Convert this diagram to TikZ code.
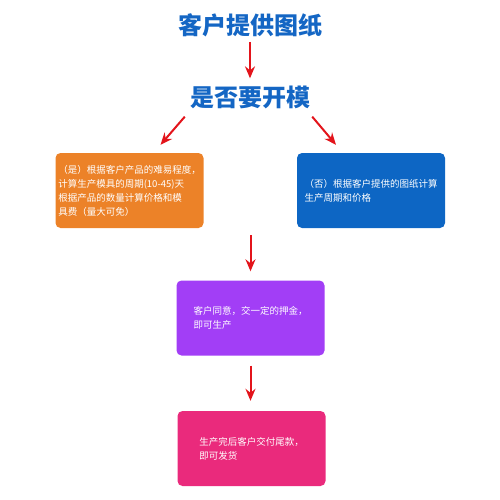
\documentclass[tikz,border=0pt]{standalone}
\usepackage{fontspec}
\setmainfont{Noto Sans CJK SC}
\usepackage{tikz}
\usetikzlibrary{positioning, calc}
\usetikzlibrary{arrows.meta}
\definecolor{titleblue}{HTML}{1466C4}
\definecolor{arrowred}{HTML}{E3141B}
\definecolor{boxorange}{HTML}{EC8228}
\definecolor{boxblue}{HTML}{0D66C4}
\definecolor{boxpurple}{HTML}{A23EF6}
\definecolor{boxpink}{HTML}{EA2A7C}

\begin{document}
\begin{tikzpicture}[x=1pt, y=-1pt, draw=black!100]
	\useasboundingbox (0,0) rectangle (500,500);
	\def \rowoneht{190.5}
	\def \rowtwoht{318}
	\def \rowthreeht{448.5}
	\tikzstyle{t-node}=[text=titleblue,inner sep=0pt,font=\fontsize{24}{24}\selectfont\bfseries]
	\tikzstyle{b-node}=[rounded corners=5pt,minimum width=148pt,minimum height=75pt,inner sep=0pt,text=white,align=left,font=\fontsize{9.5}{14}\selectfont]
	\tikzstyle{r-arrow}=[draw=arrowred,line width=2pt,-{Stealth[length=12pt,width=10pt,inset=4pt]}]
	% titles
	\node[t-node] 	(t1)	at (250,25)		{客户提供图纸};
	\node[t-node] 	(t2)	at (250,97)		{是否要开模};
	% boxes
	\node[b-node,fill=boxorange] 	(yes)	at (129.5,\rowoneht)	{（是）根据客户产品的难易程度，\\计算生产模具的周期(10-45)天\\根据产品的数量计算价格和模\\具费（量大可免）};
	\node[b-node,fill=boxblue] 	(no)	at (371,\rowoneht)	{（否）根据客户提供的图纸计算\\生产周期和价格};
	\node[b-node,fill=boxpurple] 	(agree)	at (250.5,\rowtwoht)	{客户同意，交一定的押金，\\即可生产};
	\node[b-node,fill=boxpink] 	(ship)	at (251.5,\rowthreeht)	{生产完后客户交付尾款，\\即可发货};
	% arrows
	\draw[r-arrow,shorten <=5pt,shorten >=7pt] (t1) -- (t2);
	\draw[r-arrow] ($(t2.south west)+(-5,8)$) -- ($(yes.north)+(31,-8)$);
	\draw[r-arrow] ($(t2.south east)+(2,8)$) -- ($(no.north)+(-35,-8)$);
	\draw[r-arrow,shorten <=7pt,shorten >=9pt] (agree.north |- yes.south) -- (agree.north);
	\draw[r-arrow,shorten <=10pt,shorten >=10pt] (agree.south) -- (agree.south |- ship.north);
\end{tikzpicture}
\end{document}
